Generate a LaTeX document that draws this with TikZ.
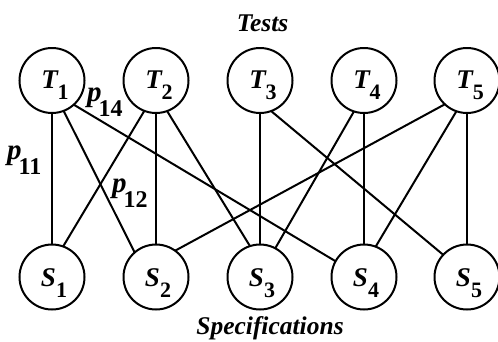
\documentclass[tikz,border=0pt]{standalone}
\usepackage{fontspec}
\setmainfont{Liberation Serif}
\newcommand{\vlab}[2]{\textbf{\textit{#1}}\raisebox{-11pt}{\fontsize{22}{22}\selectfont\bfseries\upshape #2}}
\newcommand{\plab}[1]{\textbf{\textit{p}}\kern-3pt\raisebox{-15pt}{\fontsize{24}{24}\selectfont\bfseries\upshape #1}}
\begin{document}
\begin{tikzpicture}[x=1pt,y=-1pt,
  vtx/.style={circle, draw, line width=2pt, minimum size=65pt, inner sep=0pt, outer sep=0pt},
  txt/.style={inner sep=0pt, anchor=base, font=\fontsize{27}{27}\selectfont\bfseries\itshape},
  plbl/.style={inner sep=0pt, anchor=base west, font=\fontsize{29}{29}\selectfont\bfseries\itshape},
  title/.style={inner sep=0pt, anchor=base, font=\fontsize{25.5}{25.5}\selectfont\bfseries\itshape},
  conn/.style={line width=2pt}]
\useasboundingbox (0,0) rectangle (498,341);
% vertices
\node[vtx] (T1) at (52,80.5) {};
\node[vtx] (T2) at (156,80.5) {};
\node[vtx] (T3) at (260,80.5) {};
\node[vtx] (T4) at (364,80.5) {};
\node[vtx] (T5) at (467,80.5) {};
\node[vtx] (S1) at (52,277) {};
\node[vtx] (S2) at (156,277) {};
\node[vtx] (S3) at (260,277) {};
\node[vtx] (S4) at (364,277) {};
\node[vtx] (S5) at (467,277) {};
% vertex texts
\node[txt] (T1t) at ([shift={(3,7.8)}]T1.center) {\vlab{T}{1}};
\node[txt] (T2t) at ([shift={(3,7.8)}]T2.center) {\vlab{T}{2}};
\node[txt] (T3t) at ([shift={(3,7.8)}]T3.center) {\vlab{T}{3}};
\node[txt] (T4t) at ([shift={(3,7.8)}]T4.center) {\vlab{T}{4}};
\node[txt] (T5t) at ([shift={(3,7.8)}]T5.center) {\vlab{T}{5}};
\node[txt] (S1t) at ([shift={(2,9.7)}]S1.center) {\vlab{S}{1}};
\node[txt] (S2t) at ([shift={(2,9.7)}]S2.center) {\vlab{S}{2}};
\node[txt] (S3t) at ([shift={(2,9.7)}]S3.center) {\vlab{S}{3}};
\node[txt] (S4t) at ([shift={(2,9.7)}]S4.center) {\vlab{S}{4}};
\node[txt] (S5t) at ([shift={(2,9.7)}]S5.center) {\vlab{S}{5}};
% titles
\node[title] (tests) at (262.5,31.7) {Tests};
\node[title] (specs) at (270,334.5) {Specifications};
% edges
\draw[conn] (T1.270) -- (S1.90);
\draw[conn] (T1.-69) -- (S2.131);
\draw[conn] (T1.-48) -- (S4.151);
\draw[conn] (T2.-111) -- (S1.70);
\draw[conn] (T2.270) -- (S2.90);
\draw[conn] (T2.-70) -- (S3.108);
\draw[conn] (T3.270) -- (S3.90);
\draw[conn] (T3.-70) -- (S5.137);
\draw[conn] (T4.-108) -- (S3.62);
\draw[conn] (T4.270) -- (S4.90);
\draw[conn] (T5.-133) -- (S2.54);
\draw[conn] (T5.-109) -- (S4.69);
\draw[conn] (T5.270) -- (S5.90);
% edge labels
\node[plbl] (p11) at (7,159) {\plab{11}};
\node[plbl] (p14) at (87,101) {\plab{14}};
\node[plbl] (p12) at (112,192) {\plab{12}};
\end{tikzpicture}
\end{document}
